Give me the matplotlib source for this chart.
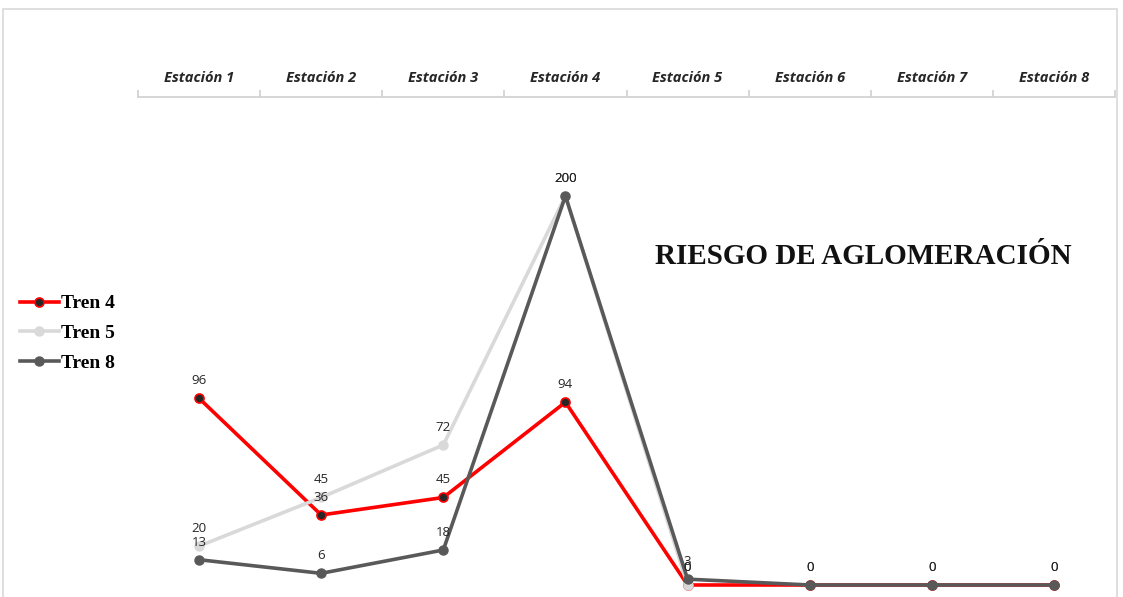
import matplotlib
matplotlib.use("Agg")
import matplotlib.pyplot as plt
from matplotlib.lines import Line2D
from matplotlib.patches import Rectangle

stations = ["Estación 1", "Estación 2", "Estación 3", "Estación 4",
            "Estación 5", "Estación 6", "Estación 7", "Estación 8"]
tren4 = [96, 36, 45, 94, 0, 0, 0, 0]
tren5 = [20, 45, 72, 200, 0, None, None, None]
tren8 = [13, 6, 18, 200, 3, 0, 0, 0]
series_names = ["Tren 4", "Tren 5", "Tren 8"]
title = "RIESGO DE AGLOMERACIÓN"

W, H = 1123, 597
fig = plt.figure(figsize=(W / 100, H / 100), dpi=100)
fig.patch.set_facecolor("white")

# outer chart border (cropped excel chart frame)
fig.patches.append(Rectangle((3 / W, -0.1), (1117 - 3) / W, (H - 9) / H + 0.1,
                             transform=fig.transFigure, fill=False,
                             edgecolor="#d9d9d9", linewidth=1.2))

left, right = 138 / W, 1115 / W
top_px, bot_px = 97, 597
ax = fig.add_axes([left, 1 - bot_px / H, right - left, (bot_px - top_px) / H])
ax.set_facecolor("none")

x = list(range(len(stations)))
px_per_unit = (585 - 196) / 200.0
ymin = -(bot_px - 585) / px_per_unit
ymax = (585 - top_px) / px_per_unit
ax.set_xlim(-0.5, len(stations) - 0.5)
ax.set_ylim(ymin, ymax)

lw = 2.6
x5 = [xi for xi, v in zip(x, tren5) if v is not None]
y5 = [v for v in tren5 if v is not None]
ax.plot(x, tren4, color="#ff0000", lw=lw, marker="o", ms=6.5,
        mfc="#262626", mec="#ff0000", mew=1.2, clip_on=False, zorder=3)
ax.plot(x5, y5, color="#d9d9d9", lw=lw, marker="o", ms=6.5,
        mfc="#d9d9d9", mec="#d9d9d9", clip_on=False, zorder=4)
ax.plot(x, tren8, color="#595959", lw=lw, marker="o", ms=6.5,
        mfc="#595959", mec="#595959", clip_on=False, zorder=5)

lab_font = dict(fontsize=9.5, color="#262626", family="Open Sans",
                ha="center", va="bottom")
for xs, ys in ((x, tren4), (x5, y5), (x, tren8)):
    for xi, yi in zip(xs, ys):
        ax.annotate(str(yi), (xi, yi), xytext=(0, 8), textcoords="offset points",
                    annotation_clip=False, zorder=6, **lab_font)

# top category axis
for s in ("left", "right", "bottom"):
    ax.spines[s].set_visible(False)
ax.spines["top"].set_color("#d0d0d0")
ax.spines["top"].set_linewidth(1.2)
ax.xaxis.set_ticks_position("top")
ax.xaxis.set_label_position("top")
ax.set_xticks(x)
ax.set_xticklabels(stations, fontsize=10.5, fontweight="bold", fontstyle="italic",
                   family="Open Sans", color="#262626")
ax.tick_params(axis="x", which="major", length=0, pad=9)
ax.set_xticks([i - 0.5 for i in range(len(stations) + 1)], minor=True)
ax.tick_params(axis="x", which="minor", length=5, color="#d0d0d0", width=1.2,
               direction="out")
ax.set_yticks([])

fig.text(655 / W, 1 - 256 / H, title, fontsize=21, fontweight="bold",
         family="Liberation Serif", color="#111111", ha="left", va="center")

handles = [
    Line2D([], [], color="#ff0000", lw=lw, marker="o", ms=6.5, mfc="#262626",
           mec="#ff0000", mew=1.2),
    Line2D([], [], color="#d9d9d9", lw=lw, marker="o", ms=6.5, mfc="#d9d9d9",
           mec="#d9d9d9"),
    Line2D([], [], color="#595959", lw=lw, marker="o", ms=6.5, mfc="#595959",
           mec="#595959"),
]
fig.legend(handles, series_names, loc="upper left",
           bbox_to_anchor=(12 / W, 1 - 287 / H), frameon=False,
           prop=dict(family="Liberation Serif", weight="bold", size=14),
           handlelength=2.0, handletextpad=0.1, labelspacing=0.62,
           borderaxespad=0)

fig.savefig("out.png", dpi=100, facecolor="white")
